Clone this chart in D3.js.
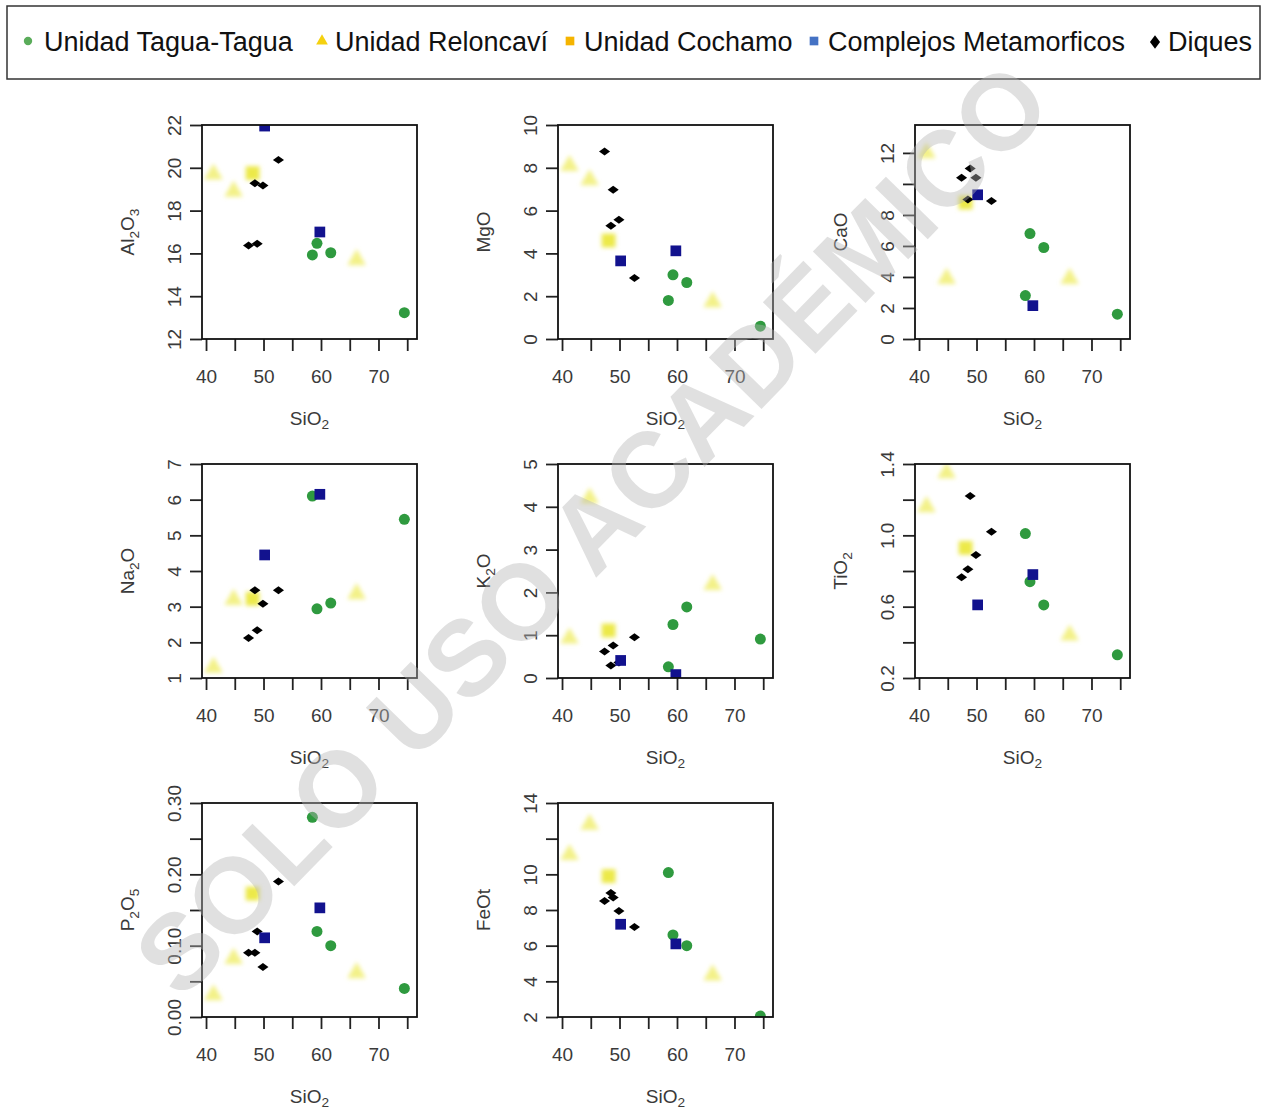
<!DOCTYPE html>
<html>
<head>
<meta charset="utf-8">
<script src="https://cdn.jsdelivr.net/npm/d3@7/dist/d3.min.js"></script>
<style>
  body { margin: 0; background: #fff; }
  svg text { font-family: "Liberation Sans", Arial, Helvetica, sans-serif; }
</style>
</head>
<body>
<svg id="chart" width="1263" height="1110"></svg>
<script>
// ---- Geochemical data (wt%) ----
const groups = ["Unidad Tagua-Tagua", "Unidad Reloncaví", "Unidad Cochamo", "Complejos Metamorficos", "Diques"];
// group index of each sample
const sampleGroup = [0, 0, 0, 0, 1, 1, 1, 2, 3, 3, 4, 4, 4, 4, 4];

const SiO2  = [58.5, 59.3, 61.7, 74.5, 41.3, 44.8, 66.2, 48.1, 50.2, 59.8, 47.4, 48.5, 48.9, 49.9, 52.6];
const Al2O3 = [15.93, 16.47, 16.03, 13.23, 19.7, 18.9, 15.7, 19.75, 21.95, 17.0, 16.37, 19.28, 16.45, 19.17, 20.37];
const MgO   = [1.8, 3.0, 2.64, 0.6, 8.1, 7.43, 1.73, 4.6, 3.65, 4.12, 8.76, 5.29, 6.97, 5.57, 2.85];
const CaO   = [2.8, 6.8, 5.9, 1.6, 12.0, 3.9, 3.9, 8.8, 9.3, 2.15, 10.4, 9.0, 11.0, 10.4, 8.9];
const Na2O  = [6.1, 2.94, 3.1, 5.45, 1.3, 3.2, 3.36, 3.22, 4.45, 6.15, 2.12, 3.46, 2.34, 3.08, 3.46];
const K2O   = [0.26, 1.25, 1.66, 0.91, 0.93, 4.2, 2.18, 1.11, 0.41, 0.08, 0.62, 0.29, 0.76, 0.36, 0.95];
const TiO2  = [1.01, 0.74, 0.61, 0.33, 1.16, 1.35, 0.44, 0.93, 0.61, 0.78, 0.765, 0.81, 1.22, 0.89, 1.02];
const P2O5  = [0.28, 0.12, 0.10, 0.04, 0.031, 0.082, 0.062, 0.173, 0.111, 0.153, 0.09, 0.09, 0.12, 0.07, 0.19];
const FeOt  = [10.1, 6.6, 6.0, 2.05, 11.1, 12.8, 4.35, 9.9, 7.2, 6.1, 8.5, 8.95, 8.7, 7.95, 7.05];

// ---- Axis ticks ----
const xTicks = [40, 45, 50, 55, 60, 65, 70, 75];
const xTickLabels = ["40", "", "50", "", "60", "", "70", ""];

const al2o3Ticks = [12, 14, 16, 18, 20, 22];
const al2o3Labels = ["12", "14", "16", "18", "20", "22"];
const mgoTicks = [0, 2, 4, 6, 8, 10];
const mgoLabels = ["0", "2", "4", "6", "8", "10"];
const caoTicks = [0, 2, 4, 6, 8, 10, 12];
const caoLabels = ["0", "2", "4", "6", "8", "", "12"];
const na2oTicks = [1, 2, 3, 4, 5, 6, 7];
const na2oLabels = ["1", "2", "3", "4", "5", "6", "7"];
const k2oTicks = [0, 1, 2, 3, 4, 5];
const k2oLabels = ["0", "1", "2", "3", "4", "5"];
const tio2Ticks = [0.2, 0.4, 0.6, 0.8, 1.0, 1.2, 1.4];
const tio2Labels = ["0.2", "", "0.6", "", "1.0", "", "1.4"];
const p2o5Ticks = [0, 0.05, 0.10, 0.15, 0.20, 0.25, 0.30];
const p2o5Labels = ["0.00", "", "0.10", "", "0.20", "", "0.30"];
const feotTicks = [2, 4, 6, 8, 10, 12, 14];
const feotLabels = ["2", "4", "6", "8", "10", "", "14"];

// y-axis titles as [text, isSubscript] pieces
const panels = [
  { values: Al2O3, title: [["Al", 0], ["2", 1], ["O", 0], ["3", 1]], domain: [12, 22], ticks: al2o3Ticks, labels: al2o3Labels },
  { values: MgO,   title: [["MgO", 0]], domain: [0, 10], ticks: mgoTicks, labels: mgoLabels },
  { values: CaO,   title: [["CaO", 0]], domain: [0, 13.8], ticks: caoTicks, labels: caoLabels },
  { values: Na2O,  title: [["Na", 0], ["2", 1], ["O", 0]], domain: [1, 7], ticks: na2oTicks, labels: na2oLabels },
  { values: K2O,   title: [["K", 0], ["2", 1], ["O", 0]], domain: [0, 5], ticks: k2oTicks, labels: k2oLabels },
  { values: TiO2,  title: [["TiO", 0], ["2", 1]], domain: [0.2, 1.4], ticks: tio2Ticks, labels: tio2Labels },
  { values: P2O5,  title: [["P", 0], ["2", 1], ["O", 0], ["5", 1]], domain: [0, 0.30], ticks: p2o5Ticks, labels: p2o5Labels },
  { values: FeOt,  title: [["FeOt", 0]], domain: [2, 14], ticks: feotTicks, labels: feotLabels }
];

// ---- Styling ----
const plotColor = ["#2f9a3f", "#f3f188", "#ece94a", "#12128e", "#000000"];
const legendColor = ["#5aac5a", "#f5d10f", "#f5b400", "#4472c4", "#000000"];
const drawOrder = [1, 2, 0, 4, 3];

const svg = d3.select("#chart");
const defs = svg.append("defs");
defs.append("filter").attr("id", "soft")
  .attr("x", "-60%").attr("y", "-60%").attr("width", "220%").attr("height", "220%")
  .append("feGaussianBlur").attr("stdDeviation", 2.1);

function symbolPath(gi, legend) {
  if (gi === 0) return d3.symbol(d3.symbolCircle, legend ? 55 : 95)();
  if (gi === 1) return d3.symbol(d3.symbolTriangle, legend ? 60 : 150)();
  if (gi === 2) return d3.symbol(d3.symbolSquare, legend ? 75 : 190)();
  if (gi === 3) return d3.symbol(d3.symbolSquare, legend ? 75 : 115)();
  return d3.symbol(d3.symbolDiamond2, legend ? 90 : 50)();
}

// ---- Legend ----
const legend = svg.append("g");
legend.append("rect").attr("x", 7).attr("y", 6).attr("width", 1253).attr("height", 73)
  .attr("fill", "#fff").attr("stroke", "#333").attr("stroke-width", 1.5);
const legendSymX = [28, 322, 570, 814, 1155];
const legendTextX = [44, 335, 584, 828, 1168];
groups.forEach((name, gi) => {
  const sy = gi === 4 ? 42 : 41;
  legend.append("path").attr("d", symbolPath(gi, true))
    .attr("transform", gi === 4 ? `translate(${legendSymX[gi]},${sy}) scale(0.85,1.15)` : `translate(${legendSymX[gi]},${sy})`)
    .attr("fill", legendColor[gi]);
  legend.append("text").attr("x", legendTextX[gi]).attr("y", 51)
    .attr("font-size", 27).attr("fill", "#111").text(name);
});

// ---- Panels ----
const colLeft = [202, 558, 915];
const rowTop = [125, 464, 803];
const boxW = 215, boxH = 214;
const x = d3.scaleLinear().domain([39.3, 76.7]).range([0, boxW]);
const tickColor = "#222", labelColor = "#3a3a3a";

function addTitle(sel, pieces, size, shift) {
  pieces.forEach(([t, sub], k) => {
    const prevSub = k > 0 && pieces[k - 1][1];
    const ts = sel.append("tspan").text(t);
    if (sub) ts.attr("font-size", size * 0.72).attr("dy", prevSub ? 0 : size * shift);
    else if (prevSub) ts.attr("dy", -size * shift);
  });
}

panels.forEach((p, i) => {
  const L = colLeft[i % 3], T = rowTop[Math.floor(i / 3)];
  const g = svg.append("g").attr("transform", `translate(${L},${T})`);
  const y = d3.scaleLinear().domain(p.domain).range([boxH, 0]);

  defs.append("clipPath").attr("id", "clip" + i)
    .append("rect").attr("width", boxW).attr("height", boxH);

  // x axis
  const xa = g.append("g").attr("transform", `translate(0,${boxH})`)
    .call(d3.axisBottom(x).tickValues(xTicks).tickSize(12).tickPadding(19)
      .tickFormat((d, k) => xTickLabels[k]));
  xa.select(".domain").remove();
  xa.selectAll("line").attr("stroke", tickColor).attr("stroke-width", 1.8);
  xa.selectAll("text").attr("font-size", 19).attr("fill", labelColor)
    .style("font-family", '"Liberation Sans", Arial, sans-serif');

  // y axis
  const ya = g.append("g")
    .call(d3.axisLeft(y).tickValues(p.ticks).tickSize(12).tickFormat((d, k) => p.labels[k]));
  ya.select(".domain").remove();
  ya.selectAll("line").attr("stroke", tickColor).attr("stroke-width", 1.8);
  ya.selectAll("text")
    .attr("x", 0).attr("y", 0).attr("dy", null)
    .attr("text-anchor", "middle")
    .attr("transform", "translate(-21,0) rotate(-90)")
    .attr("font-size", 19).attr("fill", labelColor)
    .style("font-family", '"Liberation Sans", Arial, sans-serif');

  // axis titles
  const xt = g.append("text").attr("x", boxW / 2).attr("y", boxH + 86)
    .attr("text-anchor", "middle").attr("font-size", 19).attr("fill", labelColor);
  addTitle(xt, [["SiO", 0], ["2", 1]], 19, 0.2);
  const yt = g.append("text")
    .attr("transform", `translate(-68,${boxH / 2}) rotate(-90)`)
    .attr("text-anchor", "middle").attr("font-size", 19).attr("fill", labelColor);
  addTitle(yt, p.title, 19, 0.28);

  // points
  const pts = g.append("g").attr("clip-path", `url(#clip${i})`);
  drawOrder.forEach(gi => {
    const idx = sampleGroup.map((s, k) => s === gi ? k : -1).filter(k => k >= 0);
    const layer = pts.append("g");
    if (gi === 1 || gi === 2) layer.attr("filter", "url(#soft)");
    layer.selectAll("path").data(idx).join("path")
      .attr("d", symbolPath(gi, false))
      .attr("transform", k => gi === 4
        ? `translate(${x(SiO2[k])},${y(p.values[k])}) scale(1.25,0.9)`
        : `translate(${x(SiO2[k])},${y(p.values[k])})`)
      .attr("fill", plotColor[gi]);
  });

  // frame
  g.append("rect").attr("width", boxW).attr("height", boxH)
    .attr("fill", "none").attr("stroke", "#111").attr("stroke-width", 1.8);
});

// ---- Watermark ----
svg.append("text")
  .attr("transform", "translate(591,528) rotate(-45.6)")
  .attr("text-anchor", "middle").attr("dy", "0.36em")
  .attr("font-size", 107).attr("font-weight", "bold")
  .attr("fill", "#b4b4b4").attr("fill-opacity", 0.42)
  .text("SOLO USO ACADÉMICO");
</script>
</body>
</html>
